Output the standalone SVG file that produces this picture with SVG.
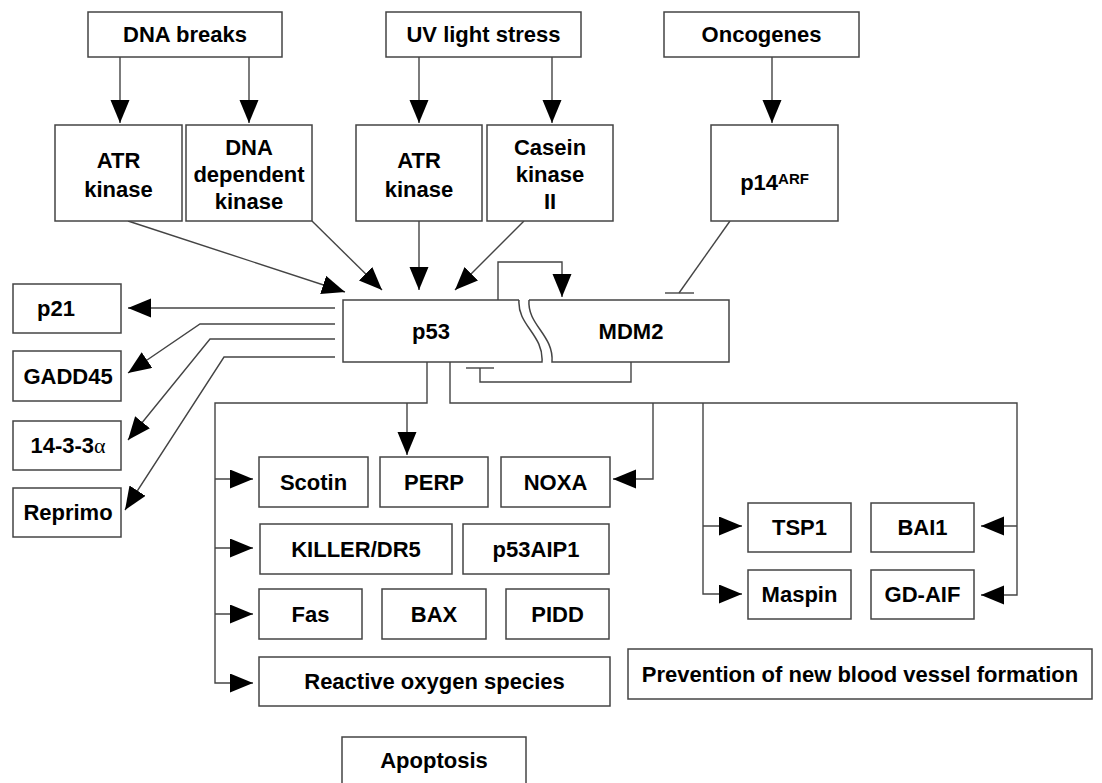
<svg xmlns="http://www.w3.org/2000/svg" width="1102" height="783" viewBox="0 0 1102 783">
<defs>
<style>
.box{fill:#fff;stroke:#444;stroke-width:1.5}
.t{font-family:"Liberation Sans",Arial,sans-serif;font-weight:bold;font-size:22px;fill:#000;text-anchor:middle}
.ln{fill:none;stroke:#444;stroke-width:1.4}
</style>
<marker id="ah" markerUnits="userSpaceOnUse" markerWidth="24" markerHeight="20" refX="23" refY="9.5" orient="auto">
<path d="M0,0 L23,9.5 L0,19 z" fill="#000"/>
</marker>
</defs>
<rect width="1102" height="783" fill="#fff"/>

<g id="connectors">
<path class="ln" d="M120,57 L120,123" marker-end="url(#ah)"/>
<path class="ln" d="M249,57 L249,123" marker-end="url(#ah)"/>
<path class="ln" d="M419,57 L419,123" marker-end="url(#ah)"/>
<path class="ln" d="M552,57 L552,123" marker-end="url(#ah)"/>
<path class="ln" d="M772,57 L772,123" marker-end="url(#ah)"/>
<path class="ln" d="M128,221 L345,292" marker-end="url(#ah)"/>
<path class="ln" d="M312,221 L382,290" marker-end="url(#ah)"/>
<path class="ln" d="M419,221 L419,290" marker-end="url(#ah)"/>
<path class="ln" d="M524,221 L455,290" marker-end="url(#ah)"/>
<path class="ln" d="M730,221 L679,293"/>
<path class="ln" d="M665,293 L694,293"/>
<path class="ln" d="M498,300 L498,262 L562,262 L562,297" marker-end="url(#ah)"/>
<path class="ln" d="M631,362 L631,382 L480,382 L480,368"/>
<path class="ln" d="M466,368 L494,368"/>
<path class="ln" d="M335,308 L128,308" marker-end="url(#ah)"/>
<path class="ln" d="M335,324 L200,324 L128,373" marker-end="url(#ah)"/>
<path class="ln" d="M335,339 L210,339 L128,440" marker-end="url(#ah)"/>
<path class="ln" d="M335,357 L224,357 L125,510" marker-end="url(#ah)"/>
<path class="ln" d="M427,362 L427,403 L215,403 L215,683 L253,683" marker-end="url(#ah)"/>
<path class="ln" d="M407,403 L407,455" marker-end="url(#ah)"/>
<path class="ln" d="M215,479 L253,479" marker-end="url(#ah)"/>
<path class="ln" d="M215,548 L253,548" marker-end="url(#ah)"/>
<path class="ln" d="M215,614 L253,614" marker-end="url(#ah)"/>
<path class="ln" d="M450,362 L450,403 L1017,403 L1017,595 L981,595" marker-end="url(#ah)"/>
<path class="ln" d="M1017,526 L981,526" marker-end="url(#ah)"/>
<path class="ln" d="M653,403 L653,479 L613,479" marker-end="url(#ah)"/>
<path class="ln" d="M703,403 L703,594 L742,594" marker-end="url(#ah)"/>
<path class="ln" d="M703,526 L742,526" marker-end="url(#ah)"/>
</g>

<g id="dna-breaks"><rect class="box" x="88" y="12" width="194" height="45"/><text class="t" x="185" y="42">DNA breaks</text></g>
<g id="uv-light"><rect class="box" x="386" y="12" width="195" height="45"/><text class="t" x="483.5" y="42">UV light stress</text></g>
<g id="oncogenes"><rect class="box" x="664" y="12" width="195" height="45"/><text class="t" x="761.5" y="42">Oncogenes</text></g>

<g id="atr-kinase-1"><rect class="box" x="55" y="125" width="127" height="96"/><text class="t" x="118.5" y="168">ATR</text><text class="t" x="118.5" y="197">kinase</text></g>
<g id="dna-dep-kinase"><rect class="box" x="186" y="125" width="126" height="96"/><text class="t" x="249" y="155">DNA</text><text class="t" x="249" y="182">dependent</text><text class="t" x="249" y="209">kinase</text></g>
<g id="atr-kinase-2"><rect class="box" x="356" y="125" width="126" height="96"/><text class="t" x="419" y="168">ATR</text><text class="t" x="419" y="197">kinase</text></g>
<g id="casein-kinase"><rect class="box" x="487" y="125" width="126" height="96"/><text class="t" x="550" y="155">Casein</text><text class="t" x="550" y="182">kinase</text><text class="t" x="550" y="209">II</text></g>
<g id="p14arf"><rect class="box" x="711" y="125" width="127" height="96"/><text class="t" x="774.5" y="190">p14<tspan font-size="15" dy="-6">ARF</tspan></text></g>

<g id="p53"><path class="box" d="M519,300 L343,300 L343,362 L542,362 C544,335 517,325 519,300"/><text class="t" x="431" y="339">p53</text></g>
<g id="mdm2"><path class="box" d="M529,300 L729,300 L729,362 L552,362 C554,335 527,325 529,300"/><text class="t" x="631" y="339">MDM2</text></g>

<g id="p21"><rect class="box" x="13" y="284" width="108" height="49"/><text class="t" x="56" y="316">p21</text></g>
<g id="gadd45"><rect class="box" x="13" y="351" width="108" height="50"/><text class="t" x="68" y="384">GADD45</text></g>
<g id="n14-3-3"><rect class="box" x="13" y="421" width="108" height="49"/><text class="t" x="68" y="453">14-3-3<tspan font-family="'Liberation Serif',serif" font-weight="normal">α</tspan></text></g>
<g id="reprimo"><rect class="box" x="13" y="488" width="108" height="49"/><text class="t" x="68" y="520">Reprimo</text></g>

<g id="scotin"><rect class="box" x="259" y="457" width="109" height="50"/><text class="t" x="313.5" y="490">Scotin</text></g>
<g id="perp"><rect class="box" x="380" y="457" width="108" height="50"/><text class="t" x="434" y="490">PERP</text></g>
<g id="noxa"><rect class="box" x="501" y="457" width="109" height="50"/><text class="t" x="555.5" y="490">NOXA</text></g>
<g id="killer"><rect class="box" x="260" y="524" width="192" height="50"/><text class="t" x="356" y="557">KILLER/DR5</text></g>
<g id="p53aip1"><rect class="box" x="463" y="524" width="146" height="50"/><text class="t" x="536" y="557">p53AIP1</text></g>
<g id="fas"><rect class="box" x="259" y="589" width="103" height="50"/><text class="t" x="310.5" y="622">Fas</text></g>
<g id="bax"><rect class="box" x="382" y="589" width="104" height="50"/><text class="t" x="434" y="622">BAX</text></g>
<g id="pidd"><rect class="box" x="506" y="589" width="103" height="50"/><text class="t" x="557.5" y="622">PIDD</text></g>
<g id="ros"><rect class="box" x="259" y="657" width="351" height="49"/><text class="t" x="434.5" y="689">Reactive oxygen species</text></g>
<g id="apoptosis"><rect class="box" x="342" y="737" width="184" height="60"/><text class="t" x="434" y="768">Apoptosis</text></g>

<g id="tsp1"><rect class="box" x="748" y="503" width="103" height="49"/><text class="t" x="799.5" y="535">TSP1</text></g>
<g id="bai1"><rect class="box" x="871" y="503" width="103" height="49"/><text class="t" x="922.5" y="535">BAI1</text></g>
<g id="maspin"><rect class="box" x="748" y="570" width="103" height="49"/><text class="t" x="799.5" y="602">Maspin</text></g>
<g id="gd-aif"><rect class="box" x="871" y="570" width="103" height="49"/><text class="t" x="922.5" y="602">GD-AIF</text></g>
<g id="prevention"><rect class="box" x="628" y="649" width="464" height="50"/><text class="t" x="860" y="682">Prevention of new blood vessel formation</text></g>
</svg>
